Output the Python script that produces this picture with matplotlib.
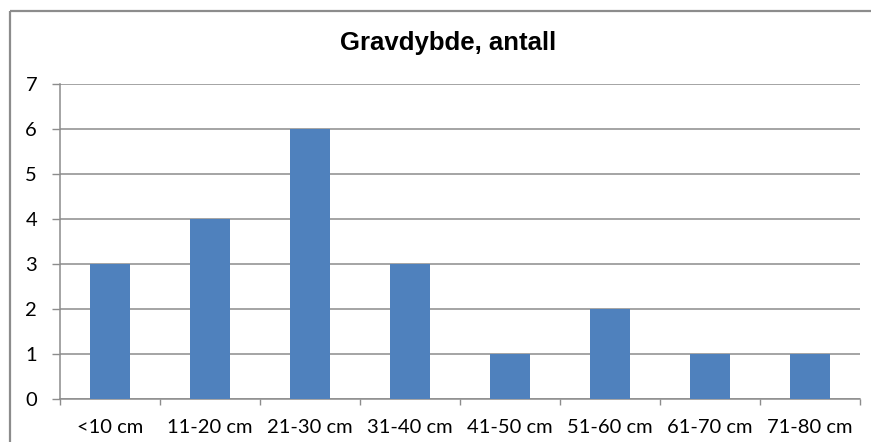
import matplotlib.pyplot as plt
from matplotlib.lines import Line2D
import numpy as np

categories = ["<10 cm", "11-20 cm", "21-30 cm", "31-40 cm", "41-50 cm", "51-60 cm", "61-70 cm", "71-80 cm"]
counts = [3, 4, 6, 3, 1, 2, 1, 1]
yticks = [0, 1, 2, 3, 4, 5, 6, 7]

W, H = 873, 444
fig = plt.figure(figsize=(W / 100, H / 100), dpi=100)
plt.rcParams['font.family'] = ['Lato', 'DejaVu Sans']

# outer chart border, top and left edges only
frame_top = (H - 11) / H
frame_left = 10 / W
fig.add_artist(Line2D([frame_left, 871 / W], [frame_top, frame_top], color="#8c8c8c", linewidth=1.6,
                      transform=fig.transFigure, solid_capstyle="butt"))
fig.add_artist(Line2D([frame_left, frame_left], [2 / H, frame_top], color="#8c8c8c", linewidth=1.6,
                      transform=fig.transFigure, solid_capstyle="butt"))

ax = fig.add_axes([60 / W, (H - 398.5) / H, 800 / W, (398.5 - 84) / H])
x = np.arange(len(categories))
ax.bar(x, counts, width=0.4, color="#4F81BD", zorder=3)

ax.set_xlim(-0.5, len(categories) - 0.5)
ax.set_ylim(0, 7)
ax.set_yticks(yticks)
ax.set_yticklabels([str(v) for v in yticks], fontsize=14.5)
ax.yaxis.grid(True, color="#8c8c8c", linewidth=1.1)
ax.set_axisbelow(True)

ax.set_xticks(np.arange(len(categories) + 1) - 0.5)
ax.set_xticklabels([])
ax.set_xticks(x, minor=True)
ax.set_xticklabels(categories, minor=True, fontsize=14.5)
ax.tick_params(axis="x", which="minor", length=0, pad=14.5)
ax.tick_params(axis="x", which="major", length=4.5, color="#8c8c8c", width=1)
ax.tick_params(axis="y", length=6, color="#8c8c8c", width=1, pad=10.5)

for s in ["top", "right"]:
    ax.spines[s].set_visible(False)
for s in ["left", "bottom"]:
    ax.spines[s].set_color("#8c8c8c")
    ax.spines[s].set_linewidth(1.1)

fig.text(448 / W, (H - 43) / H, "Gravdybde, antall", ha="center", va="center",
         fontsize=18.5, fontweight="bold", family=["Liberation Sans", "DejaVu Sans"])

fig.savefig("out.png", dpi=100)
